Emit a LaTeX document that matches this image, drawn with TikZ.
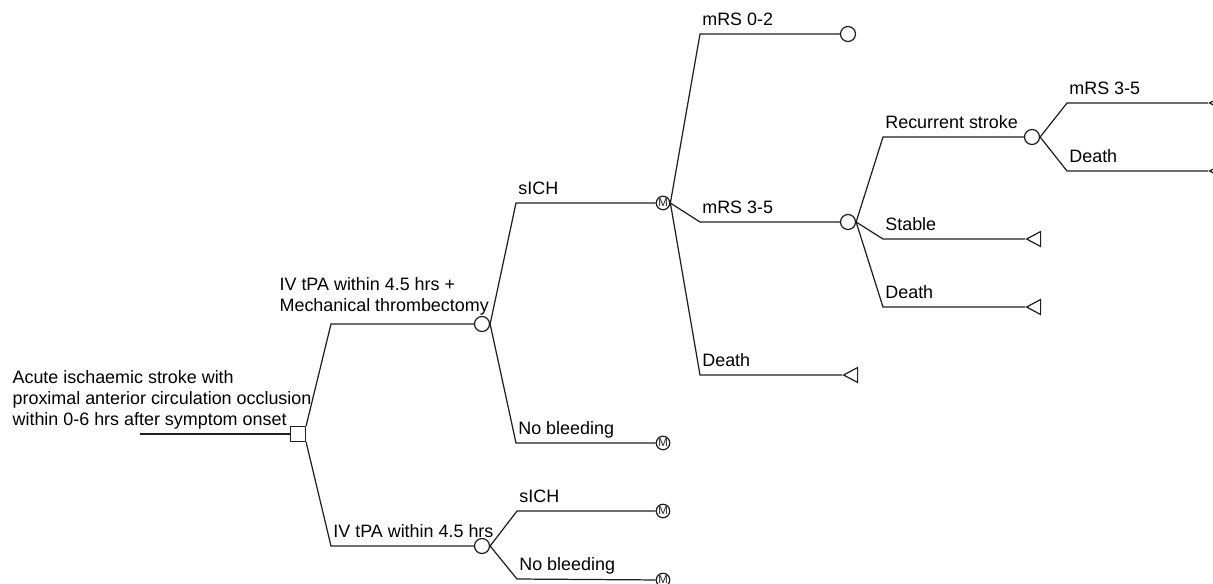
\documentclass[tikz,border=0pt]{standalone}
\usepackage{fontspec}
\setmainfont{Liberation Sans}
\usetikzlibrary{shapes.geometric}
\tikzset{>=latex}
\tikzset{chance/.style={draw, circle, fill=white, inner sep=0pt, minimum size=0.3cm}}
\tikzset{markov/.style={draw, circle, fill=white, inner sep=0pt, minimum size=0.27cm, font=\fontsize{6.5}{6.5}\selectfont}}
\tikzset{decision/.style={draw, rectangle, fill=white, inner sep=0pt, minimum size=0.3cm}}
\tikzset{terminal/.style={draw, fill=white, isosceles triangle, shape border rotate=180, isosceles triangle stretches, inner sep=0pt, minimum width=0.3cm, minimum height=0.28cm, anchor=apex}}
\tikzset{lbl/.style={anchor=base west, inner sep=0pt, xshift=1pt, yshift=0.18cm, text=black, font=\fontsize{10.2}{12}\selectfont}}

\begin{document}
\begin{tikzpicture}[x=0.02cm,y=-0.02cm,line width=0.7pt,color={black!88}]
      \useasboundingbox (0,0) rectangle (1213,583);
      % decision and first chance nodes
      \coordinate (root) at (140,434);
      \node[decision] (d) at (298,434) {};
      \coordinate (t1) at (331,324);
      \coordinate (t2) at (331,546);
      \node[chance] (c1) at (482,324) {};
      \node[chance] (c2) at (482,546) {};
      % bleeding branches
      \coordinate (s1) at (516,203);
      \coordinate (n1) at (516,443);
      \coordinate (s2) at (517,511);
      \coordinate (n2) at (517,579);
      \node[markov] (m1) at (663,203) {M};
      \node[markov] (m2) at (663,443) {M};
      \node[markov] (m3) at (663,511) {M};
      \node[markov] (m4) at (663,580) {M};
      % states after sICH
      \coordinate (r0) at (700,34);
      \coordinate (r1) at (700,222);
      \coordinate (r2) at (700,375);
      \node[chance] (c3) at (848,34) {};
      \node[chance] (c4) at (848,222) {};
      \node[terminal] (e1) at (842,375) {};
      \coordinate (q0) at (883,137);
      \coordinate (q1) at (883,239);
      \coordinate (q2) at (883,307);
      \node[chance] (c5) at (1032,137) {};
      \node[terminal] (e2) at (1025,239) {};
      \node[terminal] (e3) at (1025,307) {};
      \coordinate (p0) at (1067,103);
      \coordinate (p1) at (1067,171);
      \node[terminal] (e4) at (1208,103) {};
      \node[terminal] (e5) at (1208,171) {};

      \draw (root) -- (d);
      \draw (d.north east) -- (t1) -- (c1);
      \draw (d.south east) -- (t2) -- (c2);
      \draw (c1.east) -- (s1) -- (m1);
      \draw (c1.east) -- (n1) -- (m2);
      \draw (c2.east) -- (s2) -- (m3);
      \draw (c2.east) -- (n2) -- (m4);
      \draw (m1.east) -- (r0) -- (c3);
      \draw (m1.east) -- (r1) -- (c4);
      \draw (m1.east) -- (r2) -- (e1);
      \draw (c4.east) -- (q0) -- (c5);
      \draw (c4.east) -- (q1) -- (e2);
      \draw (c4.east) -- (q2) -- (e3);
      \draw (c5.east) -- (p0) -- (e4);
      \draw (c5.east) -- (p1) -- (e5);

      % labels
      \node[anchor=south west, align=left, inner sep=0pt, text=black, font=\fontsize{10.2}{12}\selectfont] (lroot) at (12,430)
        {Acute ischaemic stroke with\\proximal anterior circulation occlusion\\within 0-6 hrs after symptom onset};
      \node[anchor=south west, align=left, inner sep=0pt, text=black, font=\fontsize{10.2}{12}\selectfont] (lt1) at (279,316)
        {IV tPA within 4.5 hrs +\\Mechanical thrombectomy};
      \node[lbl] (lt2) at (t2) {IV tPA within 4.5 hrs};
      \node[lbl] (ls1) at (s1) {sICH};
      \node[lbl] (ln1) at (n1) {No bleeding};
      \node[lbl] (ls2) at (s2) {sICH};
      \node[lbl] (ln2) at (n2) {No bleeding};
      \node[lbl] (lr0) at (r0) {mRS 0-2};
      \node[lbl] (lr1) at (r1) {mRS 3-5};
      \node[lbl] (lr2) at (r2) {Death};
      \node[lbl] (lq0) at (q0) {Recurrent stroke};
      \node[lbl] (lq1) at (q1) {Stable};
      \node[lbl] (lq2) at (q2) {Death};
      \node[lbl] (lp0) at (p0) {mRS 3-5};
      \node[lbl] (lp1) at (p1) {Death};
    \end{tikzpicture}
\end{document}
